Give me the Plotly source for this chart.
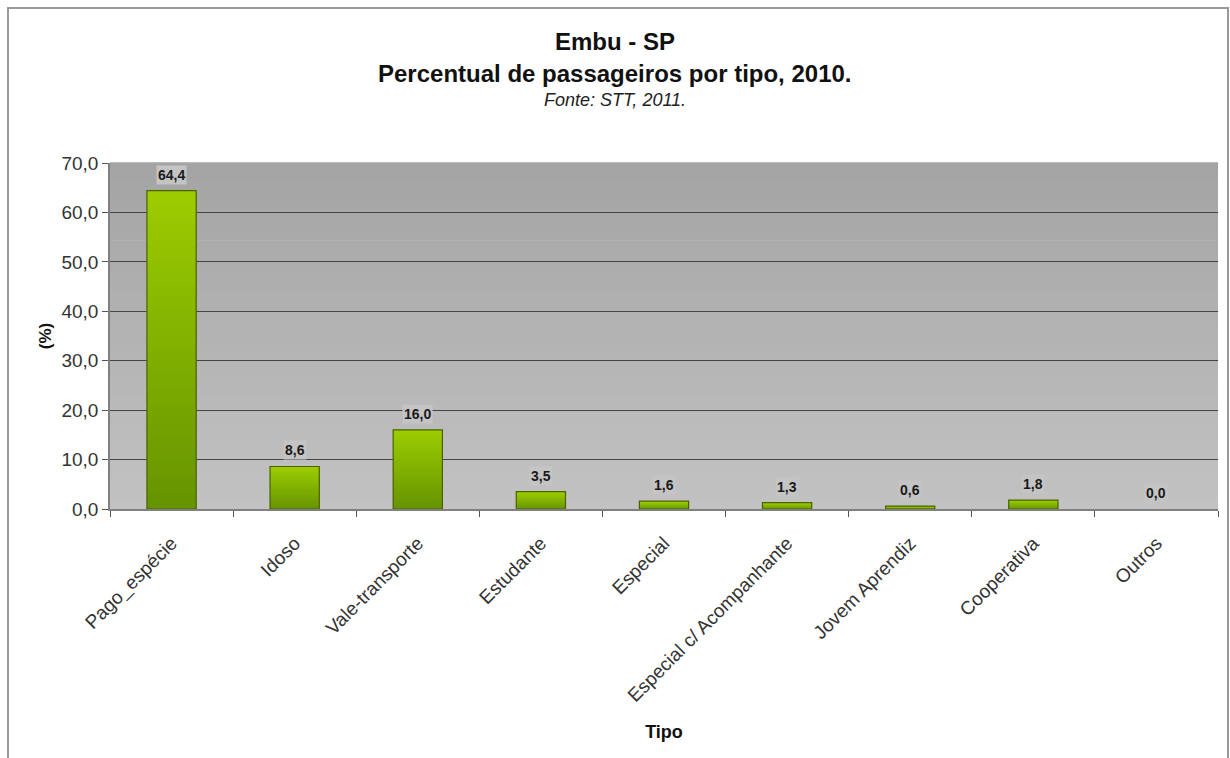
import plotly.graph_objects as go

# Passenger share by ticket type, Embu - SP, 2010
categorias = ["Pago_espécie", "Idoso", "Vale-transporte", "Estudante", "Especial",
              "Especial c/ Acompanhante", "Jovem Aprendiz", "Cooperativa", "Outros"]
percentuais = [64.4, 8.6, 16.0, 3.5, 1.6, 1.3, 0.6, 1.8, 0.0]

Y_TICKS = [0, 10, 20, 30, 40, 50, 60, 70]

FONT = "Liberation Sans, Arial, sans-serif"

# plot-area geometry in pixels
W, H = 1230, 758
ML, MR, MT, MB = 110, 12, 163, 249
PW, PH = W - ML - MR, H - MT - MB


def mix(c1, c2, t):
    return "rgb({},{},{})".format(*[round(a + (b - a) * t) for a, b in zip(c1, c2)])


fig = go.Figure()

# Vertical gradient inside each bar: stacked slices from dark (base) to light (top)
N_SLICES = 40
dark_green = (0x66, 0x94, 0x00)
light_green = (0x9c, 0xcc, 0x00)
for i in range(N_SLICES):
    t = i / (N_SLICES - 1)
    overlap = 1.6 if i < N_SLICES - 1 else 1.0  # hide seams between slices
    fig.add_trace(go.Bar(
        x=categorias,
        y=[v / N_SLICES * overlap for v in percentuais],
        base=[v * i / N_SLICES for v in percentuais],
        width=0.4,
        marker=dict(color=mix(dark_green, light_green, t), line=dict(width=0)),
        hoverinfo="skip",
        showlegend=False,
    ))

# Bar outlines
fig.add_trace(go.Bar(
    x=categorias,
    y=percentuais,
    width=0.4,
    marker=dict(color="rgba(0,0,0,0)",
                line=dict(color="#4a6200", width=[1.2 if v > 0 else 0 for v in percentuais])),
    showlegend=False,
))

# Value labels above the bars, on a light box that interrupts the gridlines
annotations = []
for cat, v in zip(categorias, percentuais):
    annotations.append(dict(
        x=cat, y=v, xref="x", yref="y",
        text="<b>" + f"{v:.1f}".replace(".", ",") + "</b>",
        showarrow=False, yanchor="bottom", yshift=6,
        font=dict(family=FONT, size=14, color="#1a1a1a"),
        bgcolor="#c4c4c4", borderpad=1,
    ))

# Titles (rows given as pixel offsets from the top of the page)
title_rows = [
    ("<b>Embu - SP</b>", 41, 24, "#111111"),
    ("<b>Percentual de passageiros por tipo, 2010.</b>", 73, 24, "#111111"),
    ("<i>Fonte: STT, 2011.</i>", 100, 18, "#222222"),
]
for text, y_px, size, color in title_rows:
    annotations.append(dict(
        text=text, x=(W / 2 - ML) / PW, y=1 + (MT - y_px) / PH,
        xref="paper", yref="paper", showarrow=False, yanchor="middle",
        font=dict(family=FONT, size=size, color=color),
    ))

# Plot-area background: grey gradient, darker at the top
N_BANDS = 40
top_grey = (0xa4, 0xa4, 0xa4)
bottom_grey = (0xc2, 0xc2, 0xc2)
shapes = []
for i in range(N_BANDS):
    t = i / (N_BANDS - 1)
    shapes.append(dict(
        type="rect", xref="x domain", yref="y domain",
        x0=0, x1=1, y0=1 - (i + 1) / N_BANDS, y1=1 - i / N_BANDS + 0.002,
        fillcolor=mix(top_grey, bottom_grey, t), line=dict(width=0), layer="below",
    ))

# Outer frame of the chart
shapes.append(dict(
    type="rect", xref="paper", yref="paper",
    x0=(8 - ML) / PW, x1=1 + (1228 - (ML + PW)) / PW,
    y0=-(780 - (MT + PH)) / PH, y1=1 + (MT - 8) / PH,
    line=dict(color="#9a9a9a", width=2), fillcolor="rgba(0,0,0,0)", layer="below",
))

fig.update_layout(
    width=W, height=H,
    margin=dict(l=ML, r=MR, t=MT, b=MB),
    barmode="overlay",
    paper_bgcolor="white",
    plot_bgcolor="rgba(0,0,0,0)",
    separators=",.",
    font=dict(family=FONT, color="#222222"),
    shapes=shapes,
    annotations=annotations,
    xaxis=dict(
        type="category",
        tickson="boundaries",
        ticks="outside", ticklen=6, tickcolor="#555555", tickwidth=1,
        tickangle=-45,
        ticklabelstandoff=14,
        tickfont=dict(family=FONT, size=19, color="#333333"),
        showline=True, linecolor="#808080", linewidth=1.5,
        showgrid=False,
        title=dict(text="<b>Tipo</b>", font=dict(family=FONT, size=18, color="#111111"), standoff=20),
    ),
    yaxis=dict(
        range=[0, 70],
        tickvals=Y_TICKS,
        tickformat=".1f",
        ticks="outside", ticklen=6, tickcolor="#555555",
        tickfont=dict(family=FONT, size=19, color="#333333"),
        showline=True, linecolor="#808080", linewidth=1.5,
        showgrid=True, gridcolor="#454545", gridwidth=1,
        zeroline=False,
        title=dict(text="<b>(%)</b>", font=dict(family=FONT, size=17, color="#111111"), standoff=6),
    ),
)

fig.write_html("out.html")
